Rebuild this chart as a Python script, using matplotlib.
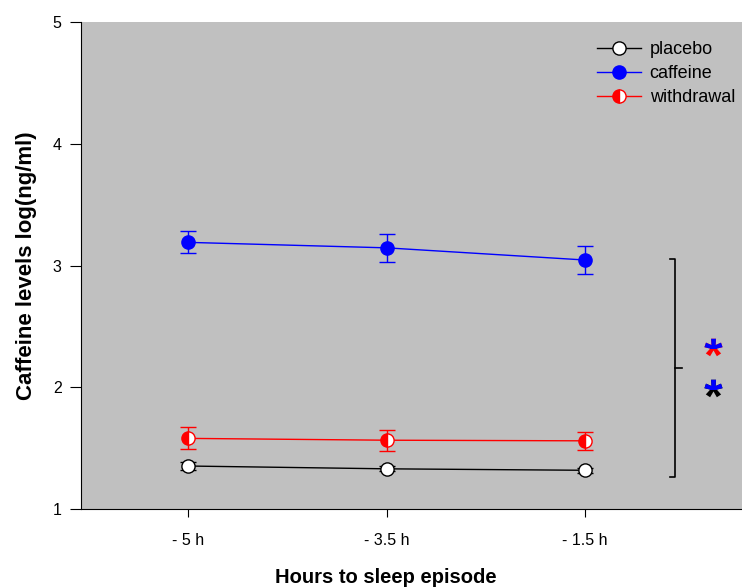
import matplotlib.pyplot as plt
from matplotlib.patches import Rectangle
from matplotlib.textpath import TextPath
from matplotlib.font_manager import FontProperties
from matplotlib.transforms import Affine2D
from matplotlib.lines import Line2D

plt.rcParams['font.family'] = ['Liberation Sans', 'DejaVu Sans']

# data
hours = ['- 5 h', '- 3.5 h', '- 1.5 h']
placebo = [1.353, 1.33, 1.318]
placebo_err = [0.03, 0.02, 0.02]
caffeine = [3.19, 3.145, 3.045]
caffeine_err = [0.09, 0.115, 0.115]
withdrawal = [1.58, 1.565, 1.56]
withdrawal_err = [0.09, 0.085, 0.075]


def dau_sao():
    # asterisk lam marker, dat tam o giua
    fp = FontProperties(family='Liberation Sans', weight='bold')
    tp = TextPath((0, 0), '*', size=1, prop=fp)
    ext = tp.get_extents()
    return tp.transformed(Affine2D().translate(-ext.x0 - ext.width / 2,
                                               -ext.y0 - ext.height / 2))


def ve_bieu_do():
    fig = plt.figure(figsize=(7.42, 5.88), dpi=100)
    ax = fig.add_axes([81 / 742, 79 / 588, 661 / 742, 487 / 588])
    ax.set_facecolor('#c0c0c0')
    x = list(range(len(hours)))

    kw = dict(lw=1, marker='o', ms=9.5, capsize=5.5, zorder=3)
    ax.errorbar(x, placebo, yerr=placebo_err, color='black', mfc='white', mec='black', **kw)
    ax.errorbar(x, caffeine, yerr=caffeine_err, color='blue', mfc='blue', mec='blue', **kw)
    ax.errorbar(x, withdrawal, yerr=withdrawal_err, color='red', mfc='red', mec='red',
                fillstyle='left', markerfacecoloralt='white', **kw)

    ax.set_xlim(-0.54, 2.79)
    ax.set_ylim(1, 5)
    ax.set_xticks(x)
    ax.set_xticklabels(hours, fontsize=11.5)
    ax.set_yticks([1, 2, 3, 4, 5])
    ax.tick_params(axis='y', labelsize=11.5, length=8, pad=6)
    ax.tick_params(axis='x', length=6, pad=11)
    for s in ['top', 'right']:
        ax.spines[s].set_visible(False)

    ax.set_ylabel('Caffeine levels log(ng/ml)', fontsize=16, fontweight='bold')
    ax.yaxis.set_label_coords(-0.066, 0.5)
    ax.set_xlabel('Hours to sleep episode', fontsize=14.5, fontweight='bold')
    ax.xaxis.set_label_coords(0.461, -0.121)

    # ngoac
    bx = 2.453
    ax.plot([bx - 0.025, bx, bx, bx - 0.025], [3.05, 3.05, 1.26, 1.26], color='black', lw=1.2)
    ax.plot([bx, bx + 0.035], [2.16, 2.16], color='black', lw=1.2)

    # hai dau sao hai mau: nua tren xanh
    sao = dau_sao()
    for y0, col in [(2.33, 'red'), (1.99, 'black')]:
        ax.plot([2.645], [y0], marker=sao, ms=34, color=col, mew=0, ls='none')
        ln, = ax.plot([2.645], [y0], marker=sao, ms=34, color='blue', mew=0, ls='none')
        ln.set_clip_path(Rectangle((2.5, y0 - 0.005), 0.3, 0.3, transform=ax.transData))

    handles = [
        Line2D([], [], color='black', lw=1, marker='o', ms=9.5, mfc='white', mec='black'),
        Line2D([], [], color='blue', lw=1, marker='o', ms=9.5, mfc='blue', mec='blue'),
        Line2D([], [], color='red', lw=1, marker='o', ms=9.5, mfc='red', mec='red',
               fillstyle='left', markerfacecoloralt='white'),
    ]
    ax.legend(handles, ['placebo', 'caffeine', 'withdrawal'], loc='upper left',
              bbox_to_anchor=(0.781, 0.961), borderaxespad=0, borderpad=0,
              frameon=False, fontsize=13, handlelength=2.4, handletextpad=0.5,
              labelspacing=0.4)
    fig.savefig('out.png', dpi=100)


if __name__ == "__main__":
    ve_bieu_do()
